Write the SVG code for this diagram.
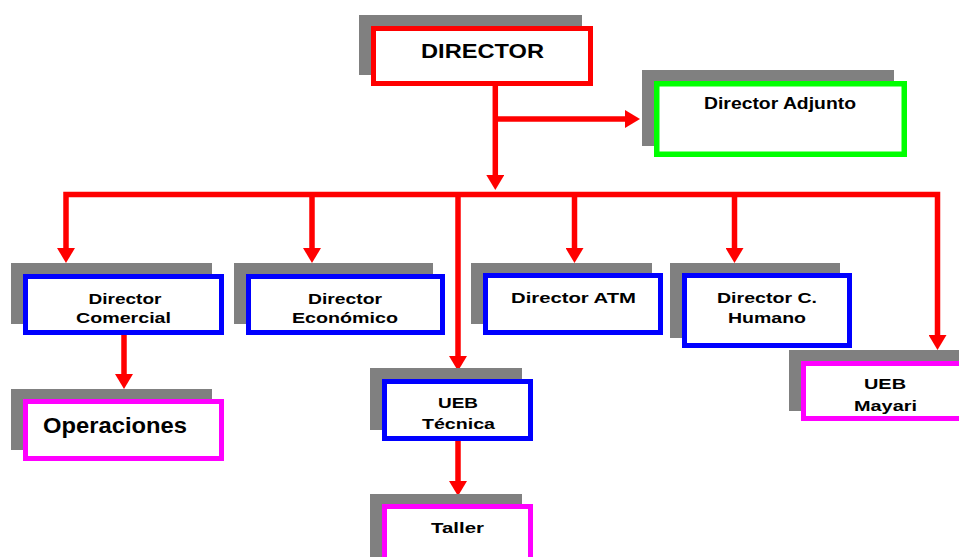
<svg xmlns="http://www.w3.org/2000/svg" width="959" height="557" viewBox="0 0 959 557">
<style>
.sh{fill:#808080}
.bx{fill:#ffffff;stroke-width:5}
.red{stroke:#ff0000}
.grn{stroke:#00ff00}
.blu{stroke:#0000ff}
.mag{stroke:#ff00ff}
.t{font-family:"Liberation Sans",Arial,sans-serif;font-weight:bold;fill:#000;text-anchor:middle;font-size:15.5px}
.c{fill:none;stroke:#ff0000;stroke-width:5.5;stroke-linejoin:miter}
</style>
<defs>
<marker id="ah" viewBox="0 0 15 18" refX="1" refY="9" markerWidth="15" markerHeight="18" markerUnits="userSpaceOnUse" orient="auto-start-reverse">
<path d="M0,0 L15,9 L0,18 Z" fill="#ff0000"/>
</marker>
</defs>
<rect width="959" height="557" fill="#ffffff"/>
<g id="connectors">
<path class="c" d="M495.3,86 V176" marker-end="url(#ah)"/>
<path class="c" d="M495.3,119 H626" marker-end="url(#ah)"/>
<path class="c" d="M66,249 V194.5 H937.5 V336" marker-start="url(#ah)" marker-end="url(#ah)"/>
<path class="c" d="M312,194.5 V249" marker-end="url(#ah)"/>
<path class="c" d="M458,194.5 V357" marker-end="url(#ah)"/>
<path class="c" d="M574.5,194.5 V249" marker-end="url(#ah)"/>
<path class="c" d="M734.5,194.5 V249" marker-end="url(#ah)"/>
<path class="c" d="M124,335 V375" marker-end="url(#ah)"/>
<path class="c" d="M458,441 V482" marker-end="url(#ah)"/>
</g>
<g id="director">
<rect class="sh" x="359" y="15" width="223" height="60"/>
<rect class="bx red" x="373.5" y="28.5" width="217" height="55"/>
<text class="t" x="482.5" y="57.5" style="font-size:21px" textLength="123" lengthAdjust="spacingAndGlyphs">DIRECTOR</text>
</g>
<g id="adjunto">
<rect class="sh" x="642" y="70" width="252" height="76"/>
<rect class="bx grn" x="656.75" y="83.75" width="247.5" height="70.5" style="stroke-width:5.5"/>
<text class="t" x="780" y="108.5" style="font-size:16.5px" textLength="152" lengthAdjust="spacingAndGlyphs">Director Adjunto</text>
</g>
<g id="comercial">
<rect class="sh" x="11" y="263" width="201" height="61"/>
<rect class="bx blu" x="25.5" y="276.5" width="196" height="56"/>
<text class="t" x="125" y="303.5" textLength="73" lengthAdjust="spacingAndGlyphs">Director</text>
<text class="t" x="123.5" y="322.5" textLength="95" lengthAdjust="spacingAndGlyphs">Comercial</text>
</g>
<g id="economico">
<rect class="sh" x="234" y="263" width="199" height="61"/>
<rect class="bx blu" x="248.5" y="276.5" width="194" height="56"/>
<text class="t" x="345" y="303.5" textLength="74" lengthAdjust="spacingAndGlyphs">Director</text>
<text class="t" x="345" y="322.5" textLength="106" lengthAdjust="spacingAndGlyphs">Económico</text>
</g>
<g id="atm">
<rect class="sh" x="471" y="263" width="181" height="61"/>
<rect class="bx blu" x="485.5" y="275.5" width="175" height="57"/>
<text class="t" x="573.5" y="303" textLength="125" lengthAdjust="spacingAndGlyphs">Director ATM</text>
</g>
<g id="humano">
<rect class="sh" x="670" y="263" width="170" height="75"/>
<rect class="bx blu" x="684.5" y="275.5" width="165" height="70"/>
<text class="t" x="767" y="303" textLength="100" lengthAdjust="spacingAndGlyphs">Director C.</text>
<text class="t" x="767" y="323" textLength="78" lengthAdjust="spacingAndGlyphs">Humano</text>
</g>
<g id="operaciones">
<rect class="sh" x="11" y="389" width="201" height="61"/>
<rect class="bx mag" x="25.5" y="401.5" width="196" height="57"/>
<text class="t" x="43" y="433" style="font-size:22px;text-anchor:start" textLength="144" lengthAdjust="spacingAndGlyphs">Operaciones</text>
</g>
<g id="ueb-tecnica">
<rect class="sh" x="370" y="368" width="152" height="62"/>
<rect class="bx blu" x="384.5" y="381.5" width="146" height="57"/>
<text class="t" x="458" y="408.3" textLength="40" lengthAdjust="spacingAndGlyphs">UEB</text>
<text class="t" x="458.5" y="429.3" textLength="73" lengthAdjust="spacingAndGlyphs">Técnica</text>
</g>
<g id="taller">
<rect class="sh" x="370" y="494" width="152" height="70"/>
<rect class="bx mag" x="384.5" y="506.5" width="146" height="70"/>
<text class="t" x="457.5" y="532.7" textLength="53" lengthAdjust="spacingAndGlyphs">Taller</text>
</g>
<g id="ueb-mayari">
<rect class="sh" x="789" y="350" width="175" height="61"/>
<rect class="bx mag" x="803.5" y="363.5" width="165" height="55"/>
<text class="t" x="885" y="389.3" textLength="42" lengthAdjust="spacingAndGlyphs">UEB</text>
<text class="t" x="885.5" y="410.7" textLength="63" lengthAdjust="spacingAndGlyphs">Mayari</text>
</g>
</svg>
